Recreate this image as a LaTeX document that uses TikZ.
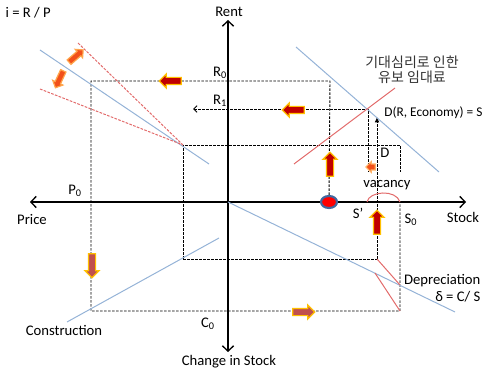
\documentclass[tikz,border=0pt]{standalone}
\usepackage{fontspec}
\setmainfont{Carlito}
\newfontfamily\krfont{Noto Sans CJK KR}
\usetikzlibrary{arrows.meta,shapes.arrows,shapes.geometric}
\definecolor{cvblue}{HTML}{95B3D7}
\definecolor{cvred}{HTML}{E26B6B}
\definecolor{pushred}{HTML}{C00000}
\definecolor{pushgold}{HTML}{FFC000}
\definecolor{brick}{HTML}{C0504D}
\definecolor{flame}{HTML}{F2501A}
\definecolor{dotblue}{HTML}{41689F}

\begin{document}
\begin{tikzpicture}[
  x=0.75pt, y=-0.75pt,
  axis/.style      = {line width=1.4pt, -{Straight Barb[length=4pt,width=8.5pt,line width=1pt]}},
  guide/.style     = {line width=0.7pt, dash pattern=on 2pt off 1pt},
  bluecurve/.style = {draw=cvblue, line width=0.75pt},
  redcurve/.style  = {draw=cvred, line width=0.75pt},
  push/.style      = {single arrow, draw=pushgold, fill=pushred, line width=0.9pt,
                      inner sep=0pt, text height=4.5pt, text depth=0pt,
                      single arrow head extend=2.6pt, minimum height=16.5pt},
  lbl/.style       = {font=\fontsize{11}{13}\selectfont, inner sep=1pt},
]
\useasboundingbox (0,0) rectangle (484,373);

% axes
\coordinate (o) at (228,202);
\coordinate (top) at (228,20);
\coordinate (bot) at (228,352);
\coordinate (lft) at (30,202);
\coordinate (rgt) at (466,202);
\draw[axis] (o) -- (top);
\draw[axis] (o) -- (bot);
\draw[axis] (o) -- (lft);
\draw[axis] (o) -- (rgt);
\node[lbl] (rent)  at (229,12)  {Rent};
\node[lbl] (chg)   at (229,362) {Change in Stock};
\node[lbl] (price) at (32,220)  {Price};
\node[lbl] (stock) at (463,217) {Stock};

% dashed guides
\coordinate (r0l) at (91,81);
\coordinate (r0r) at (330,81);
\coordinate (c0l) at (91,311);
\coordinate (c0r) at (400,311);
\coordinate (s0a) at (400,202);
\coordinate (s0b) at (400,172);
\coordinate (kink) at (183,145);
\coordinate (kinkr) at (400,145);
\coordinate (kinkb) at (183,259);
\coordinate (spb) at (377,259);
\coordinate (spt) at (377,117);
\coordinate (r1l) at (193,109);
\coordinate (r1r) at (368,109);
\coordinate (r1b) at (368,172);
\node[ellipse, draw=dotblue, fill=red, line width=1.6pt, inner sep=0pt,
      minimum width=12pt, minimum height=9pt] (dot) at (329,202) {};
\draw[guide] (dot) -- (r0r) -- (r0l) -- (c0l) -- (c0r) -- (s0a);
\draw[guide] (kinkb) -- (kink) -- (kinkr) -- (s0b);
\draw[guide] (kinkb) -- (spb);
\draw[guide, -{Latex[length=4pt,width=3.5pt]}] (spb) -- (spt);
\draw[guide, {Straight Barb[length=2.5pt,width=5pt]}-] (r1l) -- (r1r) -- (r1b);

% curves
\coordinate (dA) at (296,47);   \coordinate (dB) at (439,172);
\coordinate (iA) at (40,50);    \coordinate (iB) at (209,164);
\coordinate (cA) at (67,322);   \coordinate (cB) at (219,238);
\coordinate (dpB) at (455,312);
\draw[bluecurve] (dA) -- (dB);
\draw[bluecurve] (iA) -- (iB);
\draw[bluecurve] (cA) -- (cB);
\draw[bluecurve] (o) -- (dpB);
\coordinate (sA) at (294,164);  \coordinate (sB) at (395,88);
\coordinate (rA) at (78,43);    \coordinate (rB) at (40,89);
\draw[redcurve] (sA) -- (sB);
\draw[redcurve, dash pattern=on 2pt off 1pt] (rA) -- (kink);
\draw[redcurve, dash pattern=on 2pt off 1pt] (rB) -- (kink);
\coordinate (eA) at (375,273);
\coordinate (eB) at (400,285);
\draw[redcurve] (spb) -- (eB);
\draw[redcurve] (eA) -- (c0r);
\coordinate (sp) at (367,202);
\draw[redcurve] (sp) .. controls (369,191) and (396,189) .. (s0a);

% block arrows
\node[push, rotate=180] (a1) at (172,81) {};
\node[push, rotate=180] (a2) at (295,110) {};
\node[push, rotate=90, minimum height=18pt] (a3) at (330,166) {};
\node[push, rotate=90, minimum height=18pt] (a4) at (377,224) {};
\node[push, fill=flame, draw=orange!60, text height=3.5pt, single arrow head extend=1.8pt,
      minimum height=7pt, rotate=180] (a5) at (372,167) {};
\node[push, fill=brick, rotate=270, minimum height=18pt] (a6) at (92,264) {};
\node[push, fill=brick] (a7) at (302,312) {};
\node[push, fill=flame, draw=orange!70, text height=3.5pt, single arrow head extend=2pt,
      minimum height=14pt, rotate=41] (a8) at (75,57) {};
\node[push, fill=flame, draw=orange!70, text height=3.5pt, single arrow head extend=2pt,
      minimum height=14pt, rotate=245] (a9) at (60,78) {};

% labels
\node[lbl, anchor=west] (irp) at (4,13) {i = R / P};
\node[lbl] (r0) at (220,73)  {R\textsubscript{0}};
\node[lbl] (r1) at (220,101) {R\textsubscript{1}};
\node[lbl] (p0) at (75,191)  {P\textsubscript{0}};
\node[lbl] (c0) at (208,324) {C\textsubscript{0}};
\node[lbl] (sprime) at (358,213) {S’};
\node[lbl] (s0) at (411,220) {S\textsubscript{0}};
\node[lbl] (vac) at (387,185) {vacancy};
\node[lbl] (dlab) at (385,153) {D};
\node[lbl, anchor=east, font=\fontsize{10}{12}\selectfont] (dres) at (484,113) {D(R, Economy) = S};
\node[lbl, font=\krfont\fontsize{10.5}{12}\selectfont, text=black!80, align=center] (kr) at (412,70)
  {기대심리로 인한\\[-1pt]유보 임대료};
\node[lbl] (cons) at (64,330) {Construction};
\node[lbl, anchor=east] (dep) at (482,281) {Depreciation};
\node[lbl, anchor=east] (dlt) at (482,297) {δ = C/ S};
\end{tikzpicture}
\end{document}
